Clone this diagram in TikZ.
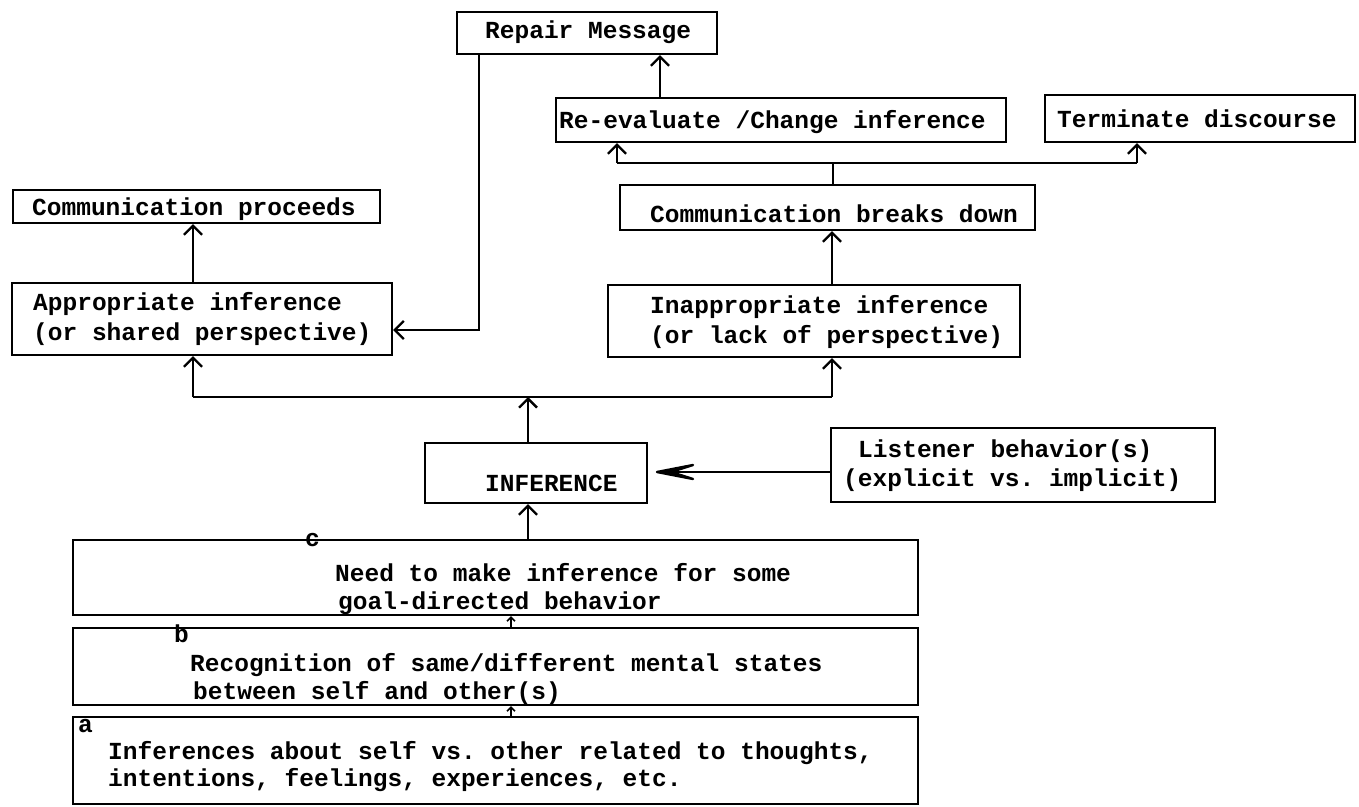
\documentclass[tikz,border=0pt]{standalone}
\usepackage{fontspec}
\setmonofont{Liberation Mono}
\usetikzlibrary{arrows.meta,fit,calc}
\newcommand{\tw}{\ttfamily\bfseries\fontsize{24.5}{29}\selectfont}
\begin{document}
\begin{tikzpicture}[x=1pt,y=-1pt,
  box/.style={draw, line width=2.3pt, inner sep=0pt},
  lbl/.style={anchor=base west, inner sep=0pt, font=\tw},
  ln/.style={line width=2.3pt},
  arr/.style={line width=2.3pt, -{Straight Barb[length=9pt,width=18pt]}},
  smallarr/.style={line width=1.5pt, -{Straight Barb[length=4pt,width=8pt]}},
  headfill/.style={fill=black, draw=black, line width=2.4pt, line join=round}]
\fill[white] (0,0) rectangle (1359,806);
\useasboundingbox (0,0) rectangle (1359,806);

% boxes
\node[box, fit={(457,12) (717,54)}] (rep) {};
\node[box, fit={(556,98) (1006,142)}] (reev) {};
\node[box, fit={(1045,95) (1355,142)}] (term) {};
\node[box, fit={(13,190) (380,223)}] (cprc) {};
\node[box, fit={(620,185) (1035,230)}] (cbrk) {};
\node[box, fit={(12,283) (392,355)}] (appr) {};
\node[box, fit={(608,285) (1020,357)}] (inap) {};
\node[box, fit={(425,443) (647,503)}] (inf) {};
\node[box, fit={(831,428) (1215,502)}] (lis) {};
\node[box, fit={(73,540) (918,615)}] (cbx) {};
\node[box, fit={(73,628) (918,705)}] (bbx) {};
\node[box, fit={(73,717) (918,804)}] (abx) {};

% texts
\node[lbl] (trep) at (485,38) {Repair Message};
\node[lbl] (treev) at (559,128) {Re-evaluate /Change inference};
\node[lbl] (tterm) at (1057,127) {Terminate discourse};
\node[lbl] (tcprc) at (32,215) {Communication proceeds};
\node[lbl] (tcbrk) at (650,222) {Communication breaks down};
\node[lbl] (tappr1) at (33,310) {Appropriate inference};
\node[lbl] (tappr2) at (33,340) {(or shared perspective)};
\node[lbl] (tinap1) at (650,313) {Inappropriate inference};
\node[lbl] (tinap2) at (650,343) {(or lack of perspective)};
\node[lbl] (tinf) at (485,491) {INFERENCE};
\node[lbl] (tlis1) at (858,457) {Listener behavior(s)};
\node[lbl] (tlis2) at (843,486) {(explicit vs. implicit)};
\node[lbl] (tc) at (305,546) {c};
\node[lbl] (tc1) at (335,581) {Need to make inference for some};
\node[lbl] (tc2) at (338,609) {goal-directed behavior};
\node[lbl] (tb) at (174,642) {b};
\node[lbl] (tb1) at (190,671) {Recognition of same/different mental states};
\node[lbl] (tb2) at (193,699) {between self and other(s)};
\node[lbl] (ta) at (78,732) {a};
\node[lbl] (ta1) at (108,759) {Inferences about self vs. other related to thoughts,};
\node[lbl] (ta2) at (108,786) {intentions, feelings, experiences, etc.};

% helper coordinates
\coordinate (rx) at (660,0);
\coordinate (sl) at (617,163);
\coordinate (sm) at (833,163);
\coordinate (sr) at (1137,163);
\coordinate (hl) at (193,397);
\coordinate (hm) at (528,397);
\coordinate (hr) at (832,397);
\coordinate (sx) at (511,0);
\coordinate (lt) at (657,472);

% connectors
\draw[arr] (reev.north -| rx) -- (rep.south -| rx);
\draw[ln] (sl) -- (sr);
\draw[ln] (cbrk.north -| sm) -- (sm);
\draw[arr] (sl) -- (sl |- reev.south);
\draw[arr] (sr) -- (sr |- term.south);
\draw[arr] ([xshift=23pt]rep.south west) |- ([yshift=-11pt]appr.east);
\draw[arr] (appr.north -| hl) -- (cprc.south -| hl);
\draw[arr] (inap.north -| hr) -- (cbrk.south -| hr);
\draw[ln] (hl) -- (hr);
\draw[arr] (hl) -- (hl |- appr.south);
\draw[arr] (hr) -- (hr |- inap.south);
\draw[arr] (inf.north -| hm) -- (hm);
\draw[arr] (cbx.north -| hm) -- (inf.south -| hm);
\draw[ln] (lis.west |- lt) -- ([xshift=16pt]lt);
\filldraw[headfill] (lt) -- ++(36,-7) -- ++(-22,7) -- ++(22,7) -- cycle;
\draw[smallarr] (abx.north -| sx) -- (bbx.south -| sx);
\draw[smallarr] (bbx.north -| sx) -- (cbx.south -| sx);
\end{tikzpicture}
\end{document}
